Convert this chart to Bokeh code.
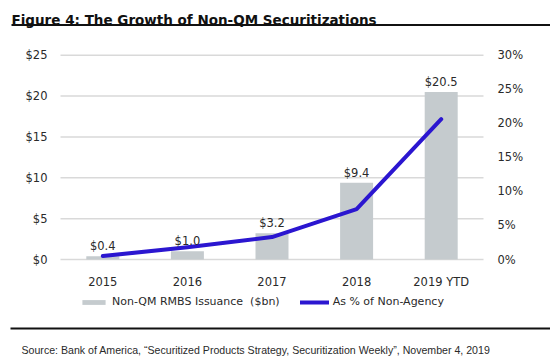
from bokeh.plotting import figure
from bokeh.models import (Range1d, LinearAxis, Legend, LegendItem, NumeralTickFormatter,
                          FixedTicker, ColumnDataSource, LabelSet)
from bokeh.core.properties import value
from bokeh.embed import file_html
from bokeh.resources import INLINE

years = ["2015", "2016", "2017", "2018", "2019 YTD"]
issuance = [0.4, 1.0, 3.2, 9.4, 20.5]
issuance_labels = ["$0.4", "$1.0", "$3.2", "$9.4", "$20.5"]
pct_non_agency = [0.5, 1.8, 3.3, 7.4, 20.6]
left_ticks = [0, 5, 10, 15, 20, 25]
right_ticks = [0, 5, 10, 15, 20, 25, 30]

title_text = "Figure 4: The Growth of Non-QM Securitizations"
source_text = "Source: Bank of America, \u201cSecuritized Products Strategy, Securitization Weekly\u201d, November 4, 2019"

FONT = "DejaVu Sans"
TXT = "#2a2a2a"
W, H = 550, 360

# plot-area geometry (pixels of the page)
PL, PR, PB, PT = 60, 483, 259, 54.7
ppx = (PR - PL) / len(years)          # px per category
ppy = (PB - PT) / 25.0                # px per $bn

x_idx = list(range(len(years)))
x_start = -0.5 - PL / ppx
x_end = len(years) - 0.5 + (W - PR) / ppx
y_start = -(H - PB) / ppy
y_end = PB / ppy

src = ColumnDataSource(dict(x=x_idx, y=issuance, lab=issuance_labels, pct=pct_non_agency))

p = figure(width=W, height=H, x_range=Range1d(x_start, x_end), y_range=Range1d(y_start, y_end),
           x_axis_type=None, y_axis_type=None, output_backend="svg", toolbar_location=None,
           min_border=0)
p.outline_line_color = None
p.extra_y_ranges = {"pct": Range1d(y_start * 30 / 25, y_end * 30 / 25),
                    "py": Range1d(H, 0)}
p.extra_x_ranges = {"px": Range1d(0, W)}

# gridlines drawn from the tick values across the plot area
p.segment(x0=-0.5, x1=len(years) - 0.5, y0=left_ticks, y1=left_ticks,
          line_color="#d9d9d9", line_width=1.5)

bars = p.vbar(x="x", top="y", width=0.39, source=src, fill_color="#c5cbce", line_color=None)
line = p.line(x="x", y="pct", source=src, y_range_name="pct", line_color="#2b16d0",
              line_width=4, line_cap="round", line_join="round")

p.add_layout(LabelSet(x="x", y="y", text="lab", source=src, text_align="center",
                      text_baseline="bottom", y_offset=3, text_font=value(FONT),
                      text_font_size="11.5px", text_color=TXT))

# axes
la = LinearAxis(ticker=FixedTicker(ticks=left_ticks), formatter=NumeralTickFormatter(format="$0"),
                fixed_location=-0.5)
p.add_layout(la, "left")
ra = LinearAxis(y_range_name="pct", ticker=FixedTicker(ticks=right_ticks), fixed_location=len(years) - 0.5)
ra.major_label_overrides = {i: f"{i}%" for i in right_ticks}
p.add_layout(ra, "right")
xa = LinearAxis(ticker=FixedTicker(ticks=x_idx), fixed_location=0)
xa.major_label_overrides = {i: y for i, y in zip(x_idx, years)}
p.add_layout(xa, "below")

for ax in [la, ra, xa]:
    ax.axis_line_color = None
    ax.major_tick_line_color = None
    ax.minor_tick_line_color = None
    ax.major_tick_out = 0
    ax.major_tick_in = 0
    ax.minor_tick_out = 0
    ax.minor_tick_in = 0
    ax.major_label_text_font = FONT
    ax.major_label_text_font_size = "11.5px"
    ax.major_label_text_color = TXT
la.major_label_standoff = 13
ra.major_label_standoff = 14
xa.major_label_standoff = 15

legend = Legend(items=[LegendItem(label="Non-QM RMBS Issuance  ($bn)", renderers=[bars]),
                       LegendItem(label="As % of Non-Agency", renderers=[line])],
                orientation="horizontal", location=(79, 52), glyph_width=29, glyph_height=6,
                label_standoff=4, spacing=20, padding=0, margin=0,
                label_text_font=FONT, label_text_font_size="11px", label_text_color=TXT,
                background_fill_alpha=0, border_line_color=None)
p.add_layout(legend, "center")

# title, rules and source (page-pixel coordinates)
p.text(x=[11], y=[19], text=[title_text], x_range_name="px", y_range_name="py",
       text_font=value(FONT), text_font_style="bold", text_font_size="13.5px",
       text_color="#111111", text_baseline="alphabetic")
p.segment(x0=[11, 10], y0=[24.5, 328], x1=[W, W], y1=[24.5, 328], x_range_name="px",
          y_range_name="py", line_color="#111111", line_width=2)
p.text(x=[21], y=[349], text=[source_text], x_range_name="px", y_range_name="py",
       text_font=value("Liberation Sans"), text_font_size="10.6px", text_color=TXT,
       text_baseline="middle")

open("out.html", "w").write(file_html(p, INLINE))
